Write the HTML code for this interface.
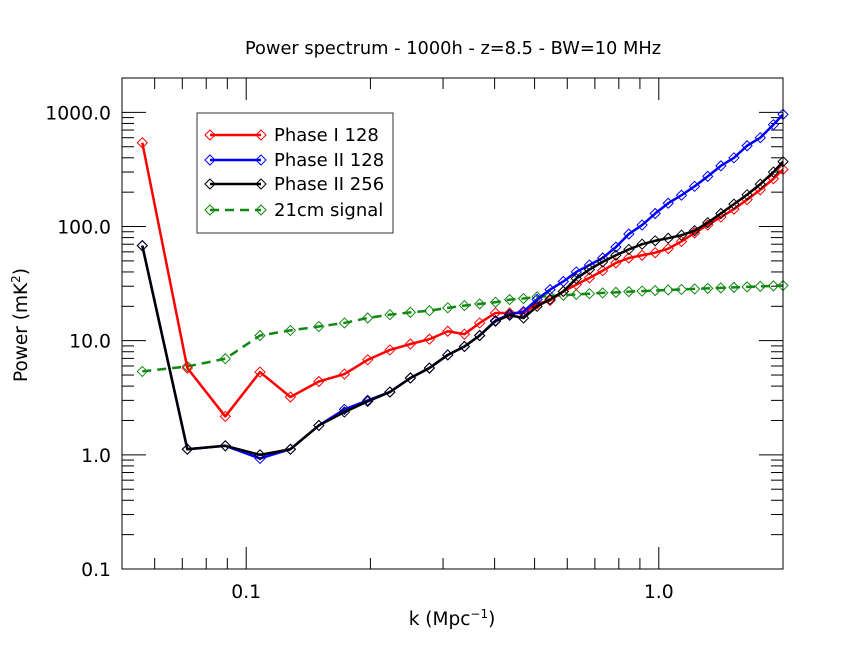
<!DOCTYPE html>
<html><head><meta charset="utf-8"><style>
body{margin:0;background:#fff;}
svg{display:block;font-family:"DejaVu Sans","Liberation Sans",sans-serif;}
</style></head><body>
<svg id="chart" width="850" height="665" xmlns="http://www.w3.org/2000/svg">
<rect width="850" height="665" fill="#fff"/>
<text x="453" y="54" text-anchor="middle" font-size="17.8">Power spectrum - 1000h - z=8.5 - BW=10 MHz</text>
<g id="axes"></g>
<g id="series"></g>
<rect x="122" y="78" width="661" height="491" fill="none" stroke="#000" stroke-width="1"/>
<text x="452" y="625" text-anchor="middle" font-size="18.5">k (Mpc<tspan dy="-7" font-size="12">−1</tspan><tspan dy="7">)</tspan></text>
<text transform="translate(27,325) rotate(-90)" text-anchor="middle" font-size="18.5">Power (mK<tspan dy="-7" font-size="12">2</tspan><tspan dy="7">)</tspan></text>
<g id="legend"></g>
</svg>
<script>
const kLow = [0.056,0.072,0.089,0.108,0.128,0.150,0.173,0.197,0.223,0.250,0.278,0.308,0.338,0.368,0.402,0.435,0.470,0.507,0.545,0.587,0.631,0.679,0.731,0.787,0.846,0.911,0.980,1.054,1.135,1.221,1.314,1.414,1.521,1.637,1.762,1.896,2.0];
const phase1_128 = [542,5.76,2.17,5.31,3.21,4.39,5.1,6.8,8.3,9.35,10.3,12.1,11.4,14.3,17.5,17.5,17.5,21,22.5,27,31,35.5,41,48,53,56,59,64,74,88,103,121,142,172,210,262,316];
const phase2_128 = [68,1.12,1.2,0.93,1.12,1.81,2.5,3.0,3.55,4.71,5.76,7.5,8.9,11.1,15,17,18,23,28,33,40,46,53,66,86,103,130,160,188,225,275,340,400,510,600,780,960];
const phase2_256 = [68,1.12,1.2,1.0,1.12,1.81,2.37,2.94,3.55,4.71,5.76,7.5,8.9,11.1,14.8,16.7,15.8,20,23,27,35,42,49,56,63,70,75,79,84,92,108,130,157,190,235,300,370];
const signal21 = [5.38,5.95,6.95,11.1,12.3,13.3,14.3,15.8,16.9,17.7,18.3,19.4,20.3,21,21.7,22.9,23.4,24.2,24.6,25,25.4,25.8,26.2,26.5,26.9,27.2,27.5,27.8,28.1,28.4,28.7,29,29.3,29.6,29.9,30.2,30.4];
const yTickVals = [0.1,1,10,100,1000];
const yTickLabels = ["0.1","1.0","10.0","100.0","1000.0"];
const xTickVals = [0.1,1];
const xTickLabels = ["0.1","1.0"];

const NS="http://www.w3.org/2000/svg";
const L=122,R=783,T=78,B=569;
const xMin=Math.log10(0.05),xMax=Math.log10(2.0),yMin=-1,yMax=Math.log10(2000);
function X(k){return L+(Math.log10(k)-xMin)/(xMax-xMin)*(R-L);}
function Y(v){return B-(Math.log10(v)-yMin)/(yMax-yMin)*(B-T);}
function mk(tag,attrs,parent){const e=document.createElementNS(NS,tag);for(const a in attrs)e.setAttribute(a,attrs[a]);parent.appendChild(e);return e;}
const axes=document.getElementById('axes');
for(let d=-1;d<=3;d++){for(let m=1;m<=9;m++){const v=m*Math.pow(10,d);if(v>2000)break;const y=Y(v);const len=m===1?24:12;
const t1=mk('line',{x1:L,x2:L+len,y1:y,y2:y,stroke:'#000','stroke-width':1},axes);


const t2=mk('line',{x1:R,x2:R-len,y1:y,y2:y,stroke:'#000','stroke-width':1},axes);

}}
yTickVals.forEach((v,i)=>{const t=mk('text',{x:L-11,y:Y(v)+7,'text-anchor':'end','font-size':18.8},axes);t.textContent=yTickLabels[i];

});
const xt=[0.05,0.06,0.07,0.08,0.09,0.1,0.2,0.3,0.4,0.5,0.6,0.7,0.8,0.9,1,2];
xt.forEach(k=>{const x=X(k);const len=(k===0.1||k===1)?22:11;
const a=mk('line',{x1:x,x2:x,y1:B,y2:B-len,stroke:'#000','stroke-width':1},axes);


const b=mk('line',{x1:x,x2:x,y1:T,y2:T+len,stroke:'#000','stroke-width':1},axes);

});
xTickVals.forEach((k,i)=>{const t=mk('text',{x:X(k),y:B+29,'text-anchor':'middle','font-size':18.8},axes);t.textContent=xTickLabels[i];

});
const sg=document.getElementById('series');
const series=[
 {name:'signal-21cm',vals:signal21,color:'#118811',dash:'9,6'},
 {name:'phase1-128',vals:phase1_128,color:'#ff0000',dash:null},
 {name:'phase2-128',vals:phase2_128,color:'#0000ff',dash:null},
 {name:'phase2-256',vals:phase2_256,color:'#000000',dash:null}];
function diamond(x,y,c,parent){const r=5;const p=mk('polygon',{points:`${x-r},${y} ${x},${y-r} ${x+r},${y} ${x},${y+r}`,fill:'none',stroke:c,'stroke-width':1},parent);return p;}
series.forEach(s=>{const g=mk('g',{},sg);


const pts=kLow.map((k,i)=>X(k)+','+Y(s.vals[i])).join(' ');
const pl=mk('polyline',{points:pts,fill:'none',stroke:s.color,'stroke-width':2.5,'stroke-linejoin':'round'},g);
if(s.dash)pl.setAttribute('stroke-dasharray',s.dash);


kLow.forEach((k,i)=>{const d=diamond(X(k),Y(s.vals[i]),s.color,g);

});});
const lg=document.getElementById('legend');
mk('rect',{x:197,y:113,width:196,height:120,fill:'#fff',stroke:'#333','stroke-width':1},lg);
const leg=[['Phase I 128','#ff0000',null],['Phase II 128','#0000ff',null],['Phase II 256','#000000',null],['21cm signal','#118811','9,6']];
const ly=[135,160,184,210];
leg.forEach((e,i)=>{const g=mk('g',{},lg);


const l=mk('line',{x1:210,x2:261,y1:ly[i],y2:ly[i],stroke:e[1],'stroke-width':2.5},g);if(e[2])l.setAttribute('stroke-dasharray',e[2]);
diamond(210,ly[i],e[1],g);diamond(261,ly[i],e[1],g);
const t=mk('text',{x:274,y:ly[i]+6,'font-size':18},g);t.textContent=e[0];});
</script>
</body></html>
